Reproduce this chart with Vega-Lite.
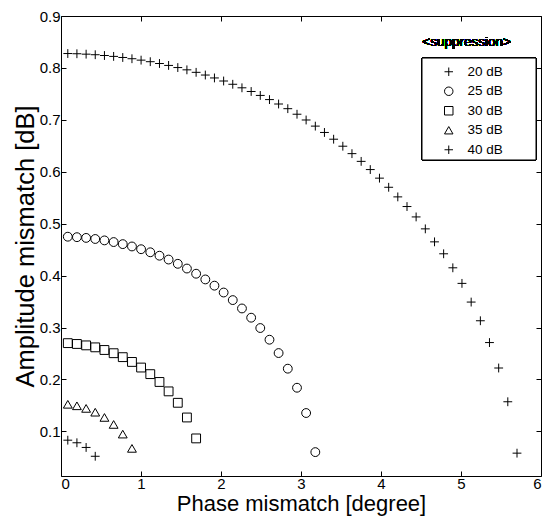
{
  "$schema": "https://vega.github.io/schema/vega-lite/v6.json",
  "width": 480,
  "height": 460,
  "autosize": {"type": "none"},
  "padding": {"left": 61, "top": 16, "right": 6, "bottom": 52},
  "background": "white",
  "config": {
    "view": {"stroke": "black", "strokeWidth": 1},
    "font": "Liberation Sans",
    "axis": {
      "grid": false,
      "domain": false,
      "tickColor": "black",
      "tickSize": -5,
      "labelColor": "black",
      "labelFontSize": 15,
      "labelFont": "Liberation Sans",
      "titleFont": "Liberation Sans",
      "titleFontWeight": "normal",
      "titleColor": "black"
    }
  },
  "data": {
    "values": [
      {"s": "20 dB", "x": 0.085, "y": 0.8277}, {"s": "20 dB", "x": 0.199, "y": 0.8273}, {"s": "20 dB", "x": 0.314, "y": 0.8265}, {"s": "20 dB", "x": 0.428, "y": 0.8254}, {"s": "20 dB", "x": 0.543, "y": 0.8239},
      {"s": "20 dB", "x": 0.658, "y": 0.8222}, {"s": "20 dB", "x": 0.772, "y": 0.8201}, {"s": "20 dB", "x": 0.887, "y": 0.8177}, {"s": "20 dB", "x": 1.001, "y": 0.815}, {"s": "20 dB", "x": 1.116, "y": 0.812},
      {"s": "20 dB", "x": 1.231, "y": 0.8085}, {"s": "20 dB", "x": 1.345, "y": 0.8048}, {"s": "20 dB", "x": 1.46, "y": 0.8007}, {"s": "20 dB", "x": 1.574, "y": 0.7963}, {"s": "20 dB", "x": 1.689, "y": 0.7915},
      {"s": "20 dB", "x": 1.804, "y": 0.7863}, {"s": "20 dB", "x": 1.918, "y": 0.7807}, {"s": "20 dB", "x": 2.033, "y": 0.7748}, {"s": "20 dB", "x": 2.147, "y": 0.7685}, {"s": "20 dB", "x": 2.262, "y": 0.7617},
      {"s": "20 dB", "x": 2.377, "y": 0.7546}, {"s": "20 dB", "x": 2.491, "y": 0.747}, {"s": "20 dB", "x": 2.606, "y": 0.739}, {"s": "20 dB", "x": 2.72, "y": 0.7305}, {"s": "20 dB", "x": 2.835, "y": 0.7215},
      {"s": "20 dB", "x": 2.95, "y": 0.7108}, {"s": "20 dB", "x": 3.064, "y": 0.6997}, {"s": "20 dB", "x": 3.179, "y": 0.6879}, {"s": "20 dB", "x": 3.293, "y": 0.6757}, {"s": "20 dB", "x": 3.408, "y": 0.6627},
      {"s": "20 dB", "x": 3.523, "y": 0.6492}, {"s": "20 dB", "x": 3.637, "y": 0.6349}, {"s": "20 dB", "x": 3.752, "y": 0.62}, {"s": "20 dB", "x": 3.866, "y": 0.6042}, {"s": "20 dB", "x": 3.981, "y": 0.5877},
      {"s": "20 dB", "x": 4.096, "y": 0.5701}, {"s": "20 dB", "x": 4.21, "y": 0.5516}, {"s": "20 dB", "x": 4.325, "y": 0.533}, {"s": "20 dB", "x": 4.439, "y": 0.513}, {"s": "20 dB", "x": 4.554, "y": 0.49},
      {"s": "20 dB", "x": 4.669, "y": 0.465}, {"s": "20 dB", "x": 4.783, "y": 0.442}, {"s": "20 dB", "x": 4.898, "y": 0.415}, {"s": "20 dB", "x": 5.012, "y": 0.385}, {"s": "20 dB", "x": 5.127, "y": 0.349},
      {"s": "20 dB", "x": 5.242, "y": 0.313}, {"s": "20 dB", "x": 5.356, "y": 0.271}, {"s": "20 dB", "x": 5.471, "y": 0.222}, {"s": "20 dB", "x": 5.585, "y": 0.157}, {"s": "20 dB", "x": 5.7, "y": 0.058},
      {"s": "25 dB", "x": 0.085, "y": 0.4749}, {"s": "25 dB", "x": 0.199, "y": 0.474}, {"s": "25 dB", "x": 0.314, "y": 0.4726}, {"s": "25 dB", "x": 0.428, "y": 0.4705}, {"s": "25 dB", "x": 0.543, "y": 0.4678},
      {"s": "25 dB", "x": 0.658, "y": 0.4646}, {"s": "25 dB", "x": 0.772, "y": 0.4606}, {"s": "25 dB", "x": 0.887, "y": 0.4561}, {"s": "25 dB", "x": 1.001, "y": 0.4508}, {"s": "25 dB", "x": 1.116, "y": 0.4449},
      {"s": "25 dB", "x": 1.231, "y": 0.4383}, {"s": "25 dB", "x": 1.345, "y": 0.4309}, {"s": "25 dB", "x": 1.46, "y": 0.4227}, {"s": "25 dB", "x": 1.574, "y": 0.4136}, {"s": "25 dB", "x": 1.689, "y": 0.4036},
      {"s": "25 dB", "x": 1.804, "y": 0.3926}, {"s": "25 dB", "x": 1.918, "y": 0.3806}, {"s": "25 dB", "x": 2.033, "y": 0.3674}, {"s": "25 dB", "x": 2.147, "y": 0.3528}, {"s": "25 dB", "x": 2.262, "y": 0.3367},
      {"s": "25 dB", "x": 2.377, "y": 0.3189}, {"s": "25 dB", "x": 2.491, "y": 0.299}, {"s": "25 dB", "x": 2.606, "y": 0.2765}, {"s": "25 dB", "x": 2.72, "y": 0.2508}, {"s": "25 dB", "x": 2.835, "y": 0.2207},
      {"s": "25 dB", "x": 2.95, "y": 0.184}, {"s": "25 dB", "x": 3.064, "y": 0.1353}, {"s": "25 dB", "x": 3.179, "y": 0.06},
      {"s": "30 dB", "x": 0.085, "y": 0.2699}, {"s": "30 dB", "x": 0.199, "y": 0.2683}, {"s": "30 dB", "x": 0.314, "y": 0.2656}, {"s": "30 dB", "x": 0.428, "y": 0.2618}, {"s": "30 dB", "x": 0.543, "y": 0.2567},
      {"s": "30 dB", "x": 0.658, "y": 0.2505}, {"s": "30 dB", "x": 0.772, "y": 0.2429}, {"s": "30 dB", "x": 0.887, "y": 0.2337}, {"s": "30 dB", "x": 1.001, "y": 0.2229}, {"s": "30 dB", "x": 1.116, "y": 0.2102},
      {"s": "30 dB", "x": 1.231, "y": 0.1951}, {"s": "30 dB", "x": 1.345, "y": 0.177}, {"s": "30 dB", "x": 1.46, "y": 0.155}, {"s": "30 dB", "x": 1.574, "y": 0.1267}, {"s": "30 dB", "x": 1.689, "y": 0.0864},
      {"s": "35 dB", "x": 0.085, "y": 0.1521}, {"s": "35 dB", "x": 0.199, "y": 0.1492}, {"s": "35 dB", "x": 0.314, "y": 0.1442}, {"s": "35 dB", "x": 0.428, "y": 0.1369}, {"s": "35 dB", "x": 0.543, "y": 0.1268},
      {"s": "35 dB", "x": 0.658, "y": 0.1133}, {"s": "35 dB", "x": 0.772, "y": 0.0947}, {"s": "35 dB", "x": 0.887, "y": 0.0672},
      {"s": "40 dB", "x": 0.085, "y": 0.083}, {"s": "40 dB", "x": 0.199, "y": 0.078}, {"s": "40 dB", "x": 0.314, "y": 0.069}, {"s": "40 dB", "x": 0.428, "y": 0.052}
    ]
  },
  "layer": [
    {
      "mark": {"type": "rect", "fill": "white", "stroke": "black", "strokeWidth": 1},
      "encoding": {
        "x": {"datum": 4.5125, "type": "quantitative", "axis": null},
        "x2": {"datum": 5.9375},
        "y": {"datum": 0.819, "type": "quantitative", "axis": null},
        "y2": {"datum": 0.6227}
      }
    },
    {
      "mark": {"type": "point", "filled": false, "color": "black", "strokeWidth": 1, "size": 78, "opacity": 1},
      "encoding": {
        "x": {
          "field": "x", "type": "quantitative",
          "scale": {"domain": [0, 6], "nice": false, "zero": false},
          "axis": {"orient": "bottom", "values": [0, 1, 2, 3, 4, 5, 6], "title": "Phase mismatch [degree]", "titleFontSize": 22, "labelPadding": 5, "titlePadding": 2}
        },
        "y": {
          "field": "y", "type": "quantitative",
          "scale": {"domain": [0.014, 0.9], "nice": false, "zero": false},
          "axis": {"orient": "left", "values": [0.1, 0.2, 0.3, 0.4, 0.5, 0.6, 0.7, 0.8, 0.9], "title": "Amplitude mismatch [dB]", "titleFontSize": 25.5, "labelPadding": 6, "titlePadding": 1}
        },
        "shape": {
          "field": "s", "type": "nominal",
          "scale": {
            "domain": ["20 dB", "25 dB", "30 dB", "35 dB", "40 dB"],
            "range": ["M-1,0L1,0M0,-1L0,1", "circle", "square", "triangle-up", "M-1,0L1,0M0,-1L0,1"]
          },
          "legend": {
            "title": null,
            "orient": "none",
            "legendX": 360,
            "legendY": 42,
            "padding": 7,
            "symbolOffset": 14,
            "labelOffset": 12,
            "labelFontSize": 13.5,
            "labelFont": "Liberation Sans",
            "labelColor": "black",
            "symbolStrokeColor": "black",
            "symbolStrokeWidth": 1,
            "symbolSize": 72,
            "rowPadding": 4.5
          }
        }
      }
    },
    {
      "mark": {"type": "point", "opacity": 0},
      "encoding": {
        "x": {
          "field": "x", "type": "quantitative",
          "scale": {"domain": [0, 6], "nice": false, "zero": false},
          "axis": {"orient": "top", "values": [0, 1, 2, 3, 4, 5, 6], "labels": false, "title": null}
        },
        "y": {
          "field": "y", "type": "quantitative",
          "scale": {"domain": [0.014, 0.9], "nice": false, "zero": false},
          "axis": {"orient": "right", "values": [0.1, 0.2, 0.3, 0.4, 0.5, 0.6, 0.7, 0.8, 0.9], "labels": false, "title": null}
        }
      }
    },
    {
      "mark": {"type": "text", "fontSize": 13.5, "font": "Liberation Sans", "color": "black", "align": "center", "baseline": "middle"},
      "encoding": {
        "x": {"datum": 5.07, "type": "quantitative", "axis": null},
        "y": {"datum": 0.85, "type": "quantitative", "axis": null},
        "text": {"value": "<suppression>"}
      }
    }
  ],
  "resolve": {"axis": {"x": "independent", "y": "independent"}}
}
